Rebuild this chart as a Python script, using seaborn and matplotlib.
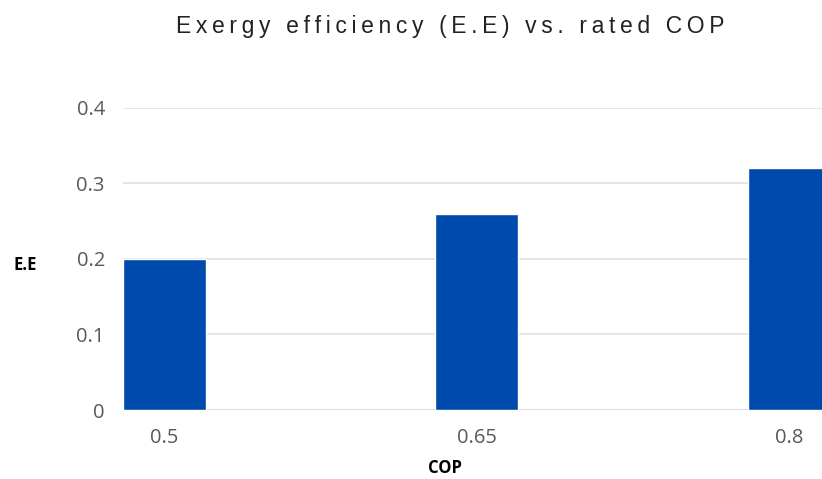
import pandas as pd
import matplotlib
matplotlib.use("Agg")
import matplotlib.pyplot as plt
import seaborn as sns

# values
cop_labels = ["0.5", "0.65", "0.8"]
ee_values = [0.20, 0.26, 0.32]
y_ticks = [0, 0.1, 0.2, 0.3, 0.4]
y_tick_labels = ["0", "0.1", "0.2", "0.3", "0.4"]

df = pd.DataFrame({"COP": cop_labels, "E.E": ee_values})

sns.set_theme(style="white")
plt.rcParams["font.family"] = ["Open Sans", "DejaVu Sans"]

fig = plt.figure(figsize=(8.22, 4.79), dpi=100)
# axes runs past the right edge on purpose: the last bar is cut off in the reference
ax = fig.add_axes([123 / 822, 69 / 479, 707.5 / 822, 302.3 / 479])

sns.barplot(data=df, x="COP", y="E.E", color="#004AAD", width=0.265,
            saturation=1, ax=ax)

ax.set_xlim(-0.1325, 2.1325)
ax.set_ylim(0, 0.4)
ax.set_yticks(y_ticks)
ax.set_yticklabels(y_tick_labels)
ax.yaxis.grid(True, color="#e0e0e0", linewidth=1.2)
ax.set_axisbelow(True)
for s in ax.spines.values():
    s.set_visible(False)
ax.axhline(0, color="#d9d9d9", linewidth=1.5, zorder=0)

ax.tick_params(axis="both", length=0, labelsize=14.5, labelcolor="#595959")
ax.tick_params(axis="y", pad=13)
ax.tick_params(axis="x", pad=13)

ax.set_ylabel("E.E", fontsize=12, fontweight="bold", color="black",
              rotation=0, va="center", ha="center")
ax.yaxis.set_label_coords(-0.1385, 0.48)
ax.set_xlabel("COP", fontsize=12, fontweight="bold", color="black",
              va="center")
ax.xaxis.set_label_coords(0.455, -0.193)

title = "Exergy efficiency (E.E) vs. rated COP"
spaced = "\u2009".join(title)
fig.text(450 / 822, 1 - 27 / 479, spaced, ha="center", va="center",
         fontsize=16.5, color="#222222",
         family=["Liberation Sans Narrow", "Liberation Sans", "DejaVu Sans"])

fig.savefig("out.png", dpi=100)
